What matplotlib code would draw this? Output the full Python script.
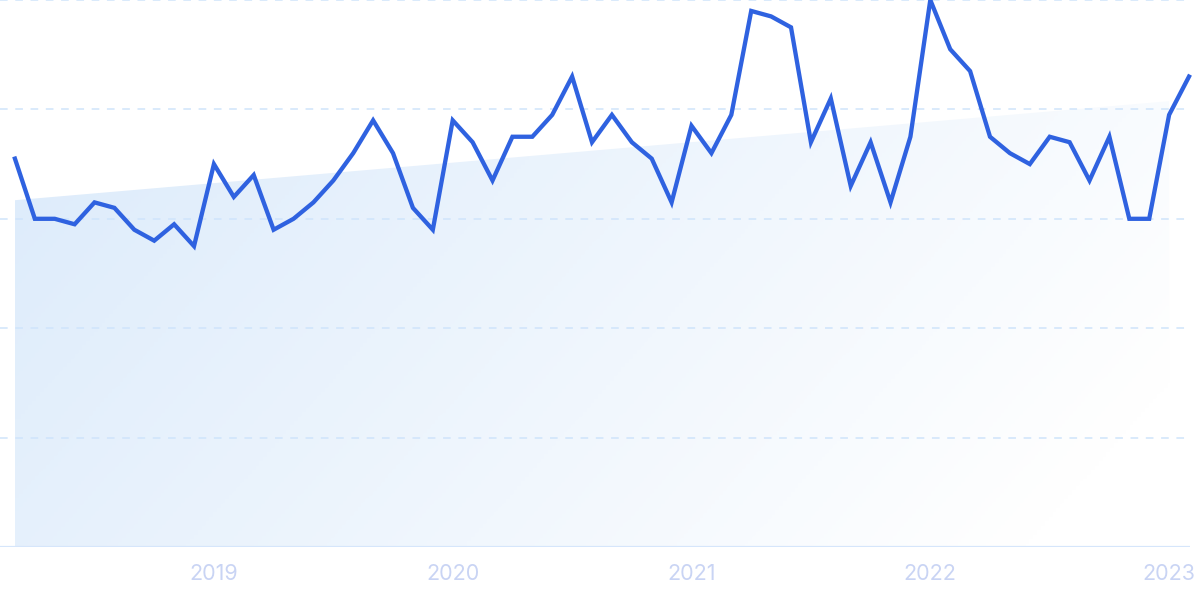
import numpy as np
import matplotlib
matplotlib.use("Agg")
import matplotlib.pyplot as plt
from matplotlib.colors import LinearSegmentedColormap
from matplotlib.patches import Polygon

# === DATA (monthly, Mar 2018 - Feb 2023) ===
values = [71, 60, 60, 59, 63, 62, 58, 56, 59, 55,
          70, 64, 68, 58, 60, 63, 67, 72, 78, 72,
          62, 58, 78, 74, 67, 75, 75, 79, 86, 74,
          79, 74, 71, 63, 77, 72, 79, 98, 97, 95,
          74, 82, 66, 74, 63, 75, 100, 91, 87, 75,
          72, 70, 75, 74, 67, 75, 60, 60, 79, 86]
year_labels = ["2019", "2020", "2021", "2022", "2023"]
year_positions = [10, 22, 34, 46, 58]   # month index of each January
trend_values = [63.4, 81.5]             # trend band at first / last-but-one month
trend_positions = [0, 58]

# === STYLE ===
line_color = "#2f62e0"
grid_color = "#cfe4fb"
label_color = "#c9d4f4"

x = np.arange(len(values))

fig = plt.figure(figsize=(12, 5.99), dpi=100)
ax = fig.add_axes([0, 52 / 599, 1190 / 1200, 547 / 599])
ax.set_xlim(-0.75, 59.05)
ax.set_ylim(0, 100)

# gradient trend band
cmap = LinearSegmentedColormap.from_list("band", ["#dcebfb", "#ffffff"])
u, v = np.meshgrid(np.linspace(0, 1, 300), np.linspace(1, 0, 200))
grad = np.clip(0.82 * u + 0.28 * (1 - v), 0, 1)
img = ax.imshow(grad, cmap=cmap, vmin=0, vmax=1, aspect="auto",
                extent=(trend_positions[0], trend_positions[1], 0, trend_values[1]),
                zorder=1)
band = Polygon([(trend_positions[0], 0), (trend_positions[0], trend_values[0]),
                (trend_positions[1], trend_values[1]), (trend_positions[1], 0)],
               closed=True, facecolor="none", edgecolor="none")
ax.add_patch(band)
img.set_clip_path(band)

# grid
for gy in [20, 40, 60, 80, 100]:
    ax.axhline(gy, color=grid_color, lw=1.1, ls=(0, (5, 5)), zorder=2)
ax.axhline(0, color="#d6e6fb", lw=1.6, zorder=2)

ax.plot(x, values, color=line_color, lw=3.1, solid_joinstyle="miter",
        zorder=3, clip_on=False)

for s in ax.spines.values():
    s.set_visible(False)
ax.set_yticks([])
ax.set_xticks(year_positions)
ax.set_xticklabels(year_labels, fontfamily="Inter", fontsize=15.5, color=label_color)
ax.tick_params(axis="x", length=0, pad=12)

fig.savefig("out.png", dpi=100)
